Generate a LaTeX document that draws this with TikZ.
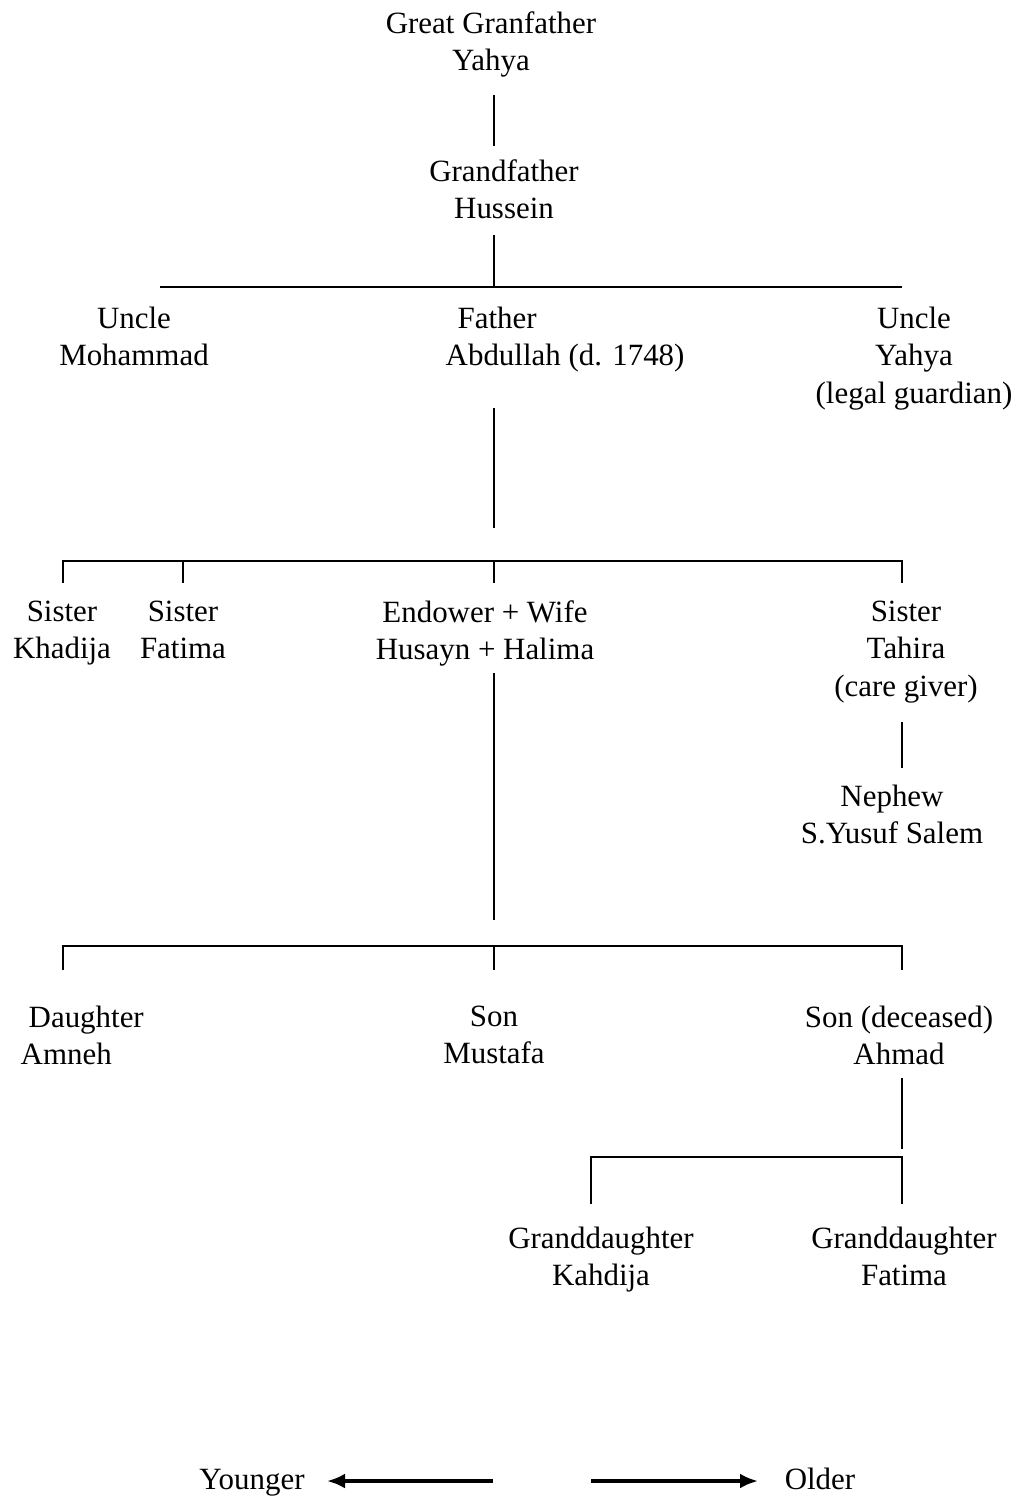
\documentclass[tikz,border=0pt]{standalone}
\usepackage{fontspec}
\setmainfont{Liberation Serif}
\usetikzlibrary{arrows.meta}
\tikzset{
    person/.style = {align=center, inner sep=0pt, anchor=north,
        font=\fontsize{8.8pt}{10.65pt}\selectfont},
    ageword/.style = {inner sep=0pt, anchor=base,
        font=\fontsize{8.8pt}{10.65pt}\selectfont},
    link/.style = {draw, line width=0.57pt},
    agearrow/.style = {draw, -{Latex[length=1.8mm,width=1.5mm]}, line width=1.1pt}
}

\begin{document}
\begin{tikzpicture}[x=0.1mm, y=-0.1mm]
    \useasboundingbox (0,0) rectangle (1028,1497);
    % people
    \node [person] (ggf) at (491,11) {Great Granfather\\Yahya};
    \node [person] (gf) at (504,159) {Grandfather\\Hussein};
    \node [person] (uncleM) at (134,306) {Uncle\\Mohammad};
    \node [person, anchor=north west, align=left] (father) at (445,306) {\hspace*{1.2mm}Father\\Abdullah (d. 1748)};
    \node [person] (uncleY) at (914,306) {Uncle\\Yahya\\(legal guardian)};
    \node [person] (sisK) at (62,600) {Sister\\Khadija};
    \node [person] (sisF) at (183,600) {Sister\\Fatima};
    \node [person] (endower) at (485,600) {Endower + Wife\\Husayn + Halima};
    \node [person] (sisT) at (906,600) {Sister\\Tahira\\(care giver)};
    \node [person] (nephew) at (892,784) {Nephew\\S.Yusuf Salem};
    \node [person, anchor=north west, align=left] (daughter) at (20,1005) {\hspace*{0.8mm}Daughter\\Amneh};
    \node [person] (sonM) at (494,1005) {Son\\Mustafa};
    \node [person] (sonA) at (899,1005) {Son (deceased)\\Ahmad};
    \node [person] (gdK) at (601,1226) {Granddaughter\\Kahdija};
    \node [person] (gdF) at (904,1226) {Granddaughter\\Fatima};

    % tree lines
    \coordinate (s1a) at (494,95);   \coordinate (s1b) at (494,146);
    \coordinate (s2a) at (494,235);  \coordinate (bus1) at (494,287);
    \coordinate (bus1w) at (160,287); \coordinate (bus1e) at (902,287);
    \coordinate (s3a) at (494,408);  \coordinate (s3b) at (494,528);
    \coordinate (bus2) at (494,561);
    \coordinate (bus2w) at (63,561); \coordinate (bus2e) at (902,561);
    \coordinate (s4a) at (494,673);  \coordinate (s4b) at (494,920);
    \coordinate (s5a) at (902,722);  \coordinate (s5b) at (902,768);
    \coordinate (bus3) at (494,946);
    \coordinate (bus3w) at (63,946); \coordinate (bus3e) at (902,946);
    \coordinate (s6a) at (902,1078); \coordinate (s6b) at (902,1149);
    \coordinate (bus4w) at (591,1157); \coordinate (bus4e) at (902,1157);

    \draw [link] (s1a) -- (s1b);
    \draw [link] (s2a) -- (bus1);
    \draw [link] (bus1w) -- (bus1e);
    \draw [link] (s3a) -- (s3b);
    \draw [link] (bus2w) ++(0,22) -- (bus2w) -- (bus2e) -- ++(0,22);
    \draw [link] (bus2w -| sisF) -- ++(0,22);
    \draw [link] (bus2) -- ++(0,22);
    \draw [link] (s4a) -- (s4b);
    \draw [link] (s5a) -- (s5b);
    \draw [link] (bus3w) ++(0,24) -- (bus3w) -- (bus3e) -- ++(0,24);
    \draw [link] (bus3) -- ++(0,24);
    \draw [link] (s6a) -- (s6b);
    \draw [link] (bus4w) ++(0,47) -- (bus4w) -- (bus4e) -- ++(0,47);

    % age direction
    \node [ageword] (younger) at (252,1489) {Younger};
    \node [ageword] (older) at (820,1489) {Older};
    \coordinate (ageL) at (493,1481); \coordinate (youngTip) at (327,1481);
    \coordinate (ageR) at (591,1481); \coordinate (oldTip) at (758,1481);
    \draw [agearrow] (ageL) -- (youngTip);
    \draw [agearrow] (ageR) -- (oldTip);
\end{tikzpicture}
\end{document}
